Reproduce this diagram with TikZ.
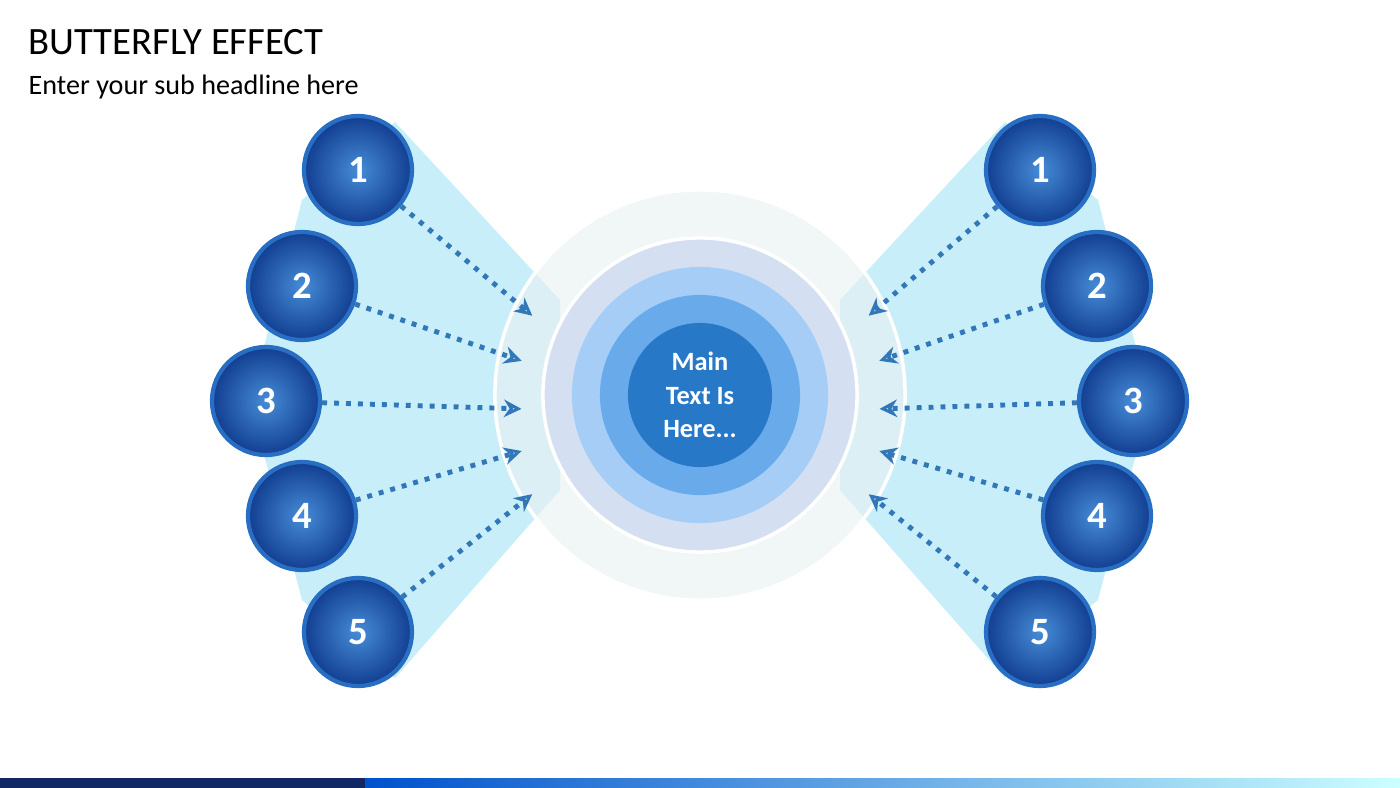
\documentclass[tikz,border=0pt]{standalone}
\usepackage{fontspec}
\setmainfont{Carlito}
\usetikzlibrary{arrows.meta,shadings}
\definecolor{navy}{RGB}{18,40,100}
\definecolor{ballout}{RGB}{18,62,145}
\definecolor{ballin}{RGB}{70,140,215}
\definecolor{ballrim}{RGB}{40,110,195}
\definecolor{wing}{RGB}{200,238,250}
\definecolor{dotblue}{RGB}{50,120,185}
\definecolor{ringa}{RGB}{232,240,240}
\definecolor{ringb}{RGB}{212,224,242}
\definecolor{ringc}{RGB}{165,205,245}
\definecolor{ringd}{RGB}{105,170,235}
\definecolor{core}{RGB}{40,120,200}
\tikzset{
  ball/.style={circle,minimum size=1.08cm,inner sep=0pt,draw=ballrim,line width=1.2pt,
    inner color=ballin,outer color=ballout,text=white,font=\bfseries\fontsize{11}{11}\selectfont},
  link/.style={-{Stealth[open,length=5pt,width=5pt]},dotblue,line width=1.4pt,dotted,shorten >=1pt},
  ring/.style={circle,inner sep=0pt}
}
\begin{document}
\begin{tikzpicture}[x=0.01cm,y=-0.01cm]
  \useasboundingbox (0,0) rectangle (1400,788);
  % wings
  \fill[wing] (395,122) -- (560,300) -- (560,490) -- (395,678) -- (302,600) -- (250,401) -- (302,200) -- cycle;
  \fill[wing] (1005,122) -- (840,300) -- (840,490) -- (1005,678) -- (1098,600) -- (1150,401) -- (1098,200) -- cycle;
  % rings
  \node[ring,minimum size=4.1cm,fill=ringa,fill opacity=0.6,draw=white,line width=1pt] (r0) at (700,395) {};
  \node[ring,minimum size=3.14cm,fill=ringb,draw=white,line width=1pt] (r1) at (700,395) {};
  \node[ring,minimum size=2.56cm,fill=ringc] (r2) at (700,395) {};
  \node[ring,minimum size=2.0cm,fill=ringd] (r3) at (700,395) {};
  \node[ring,minimum size=1.44cm,fill=core,text=white,align=center,
    font=\bfseries\fontsize{7.5}{9.5}\selectfont] (main) at (700,395) {Main\\Text Is\\Here...};
  % balls
  \node[ball] (l1) at (358,170) {1};
  \node[ball] (l2) at (302,286) {2};
  \node[ball] (l3) at (266,401) {3};
  \node[ball] (l4) at (302,516) {4};
  \node[ball] (l5) at (358,632) {5};
  \node[ball] (r1b) at (1040,170) {1};
  \node[ball] (r2b) at (1097,286) {2};
  \node[ball] (r3b) at (1133,401) {3};
  \node[ball] (r4b) at (1097,516) {4};
  \node[ball] (r5b) at (1040,632) {5};
  % arrow ends
  \coordinate (el1) at (535,318); \coordinate (el2) at (525,362); \coordinate (el3) at (525,409);
  \coordinate (el4) at (525,450); \coordinate (el5) at (535,492);
  \coordinate (er1) at (866,318); \coordinate (er2) at (876,362); \coordinate (er3) at (876,409);
  \coordinate (er4) at (876,450); \coordinate (er5) at (866,492);
  \foreach \i/\j in {l1/el1,l2/el2,l3/el3,l4/el4,l5/el5,r1b/er1,r2b/er2,r3b/er3,r4b/er4,r5b/er5}
    \draw[link] (\i) -- (\j);
  % titles
  \node[anchor=west,inner sep=0pt,font=\fontsize{11}{12}\selectfont] (title) at (28,42) {BUTTERFLY EFFECT};
  \node[anchor=west,inner sep=0pt,font=\fontsize{8}{9}\selectfont] (sub) at (28,87) {Enter your sub headline here};
  % bottom bar
  \fill[navy] (0,778) rectangle (365,788);
  \shade[left color=blue!60!cyan!80!black,right color=cyan!20] (365,778) rectangle (1400,788);
\end{tikzpicture}
\end{document}
